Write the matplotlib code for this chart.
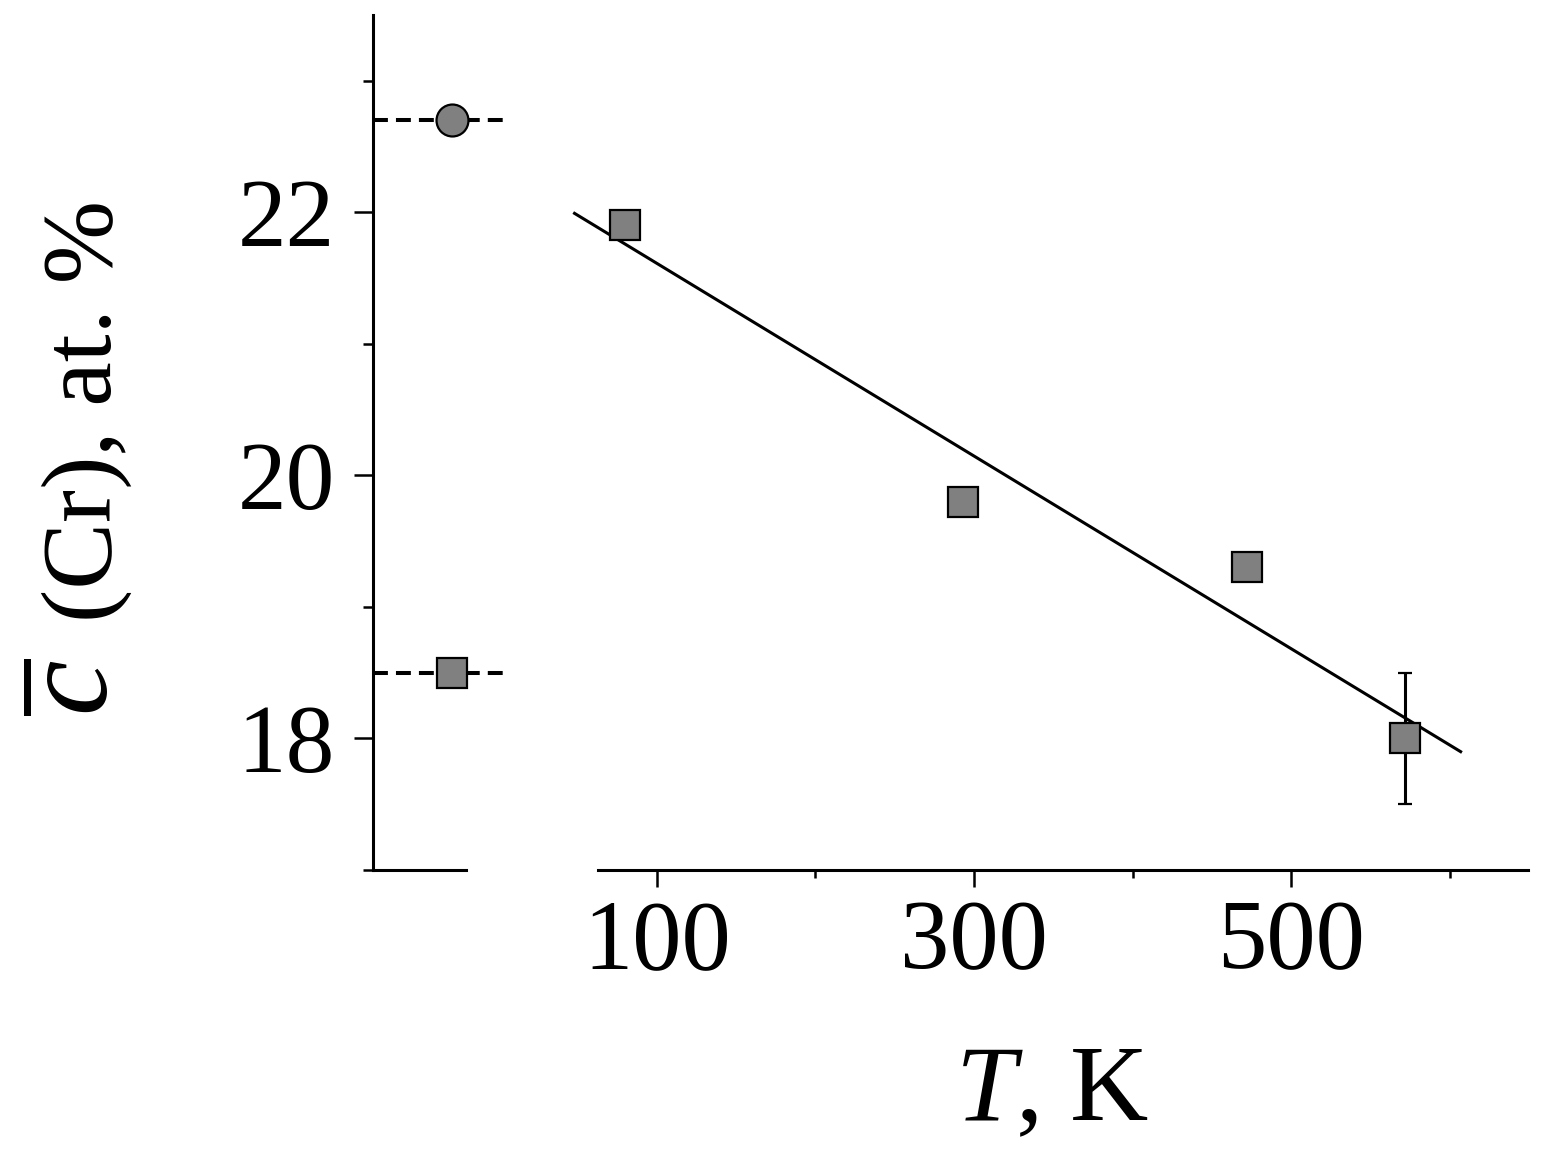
import numpy as np
import matplotlib
matplotlib.use("Agg")
import matplotlib.pyplot as plt
from matplotlib.ticker import MultipleLocator

plt.rcParams["font.family"] = "serif"
plt.rcParams["font.serif"] = ["Liberation Serif", "DejaVu Serif"]
plt.rcParams["mathtext.fontset"] = "custom"
plt.rcParams["mathtext.rm"] = "Liberation Serif"
plt.rcParams["mathtext.it"] = "Liberation Serif:italic"
FONT = "Liberation Serif"

# mean Cr concentration vs temperature
temp_K = [80, 293, 472, 572]
conc = [21.9, 19.8, 19.3, 18.0]
conc_err = [0, 0, 0, 0.5]
# reference levels (left panel)
ref_circle = 22.7
ref_square = 18.5
fit_range = [48, 607]

W, H = 1550, 1164
fig = plt.figure(figsize=(W / 100, H / 100), dpi=100)


def box(x0, x1, y0, y1):
    return [x0 / W, 1 - y1 / H, (x1 - x0) / W, (y1 - y0) / H]


ax0 = fig.add_axes(box(373, 466, 15, 870))
ax = fig.add_axes(box(598, 1528, 15, 870), sharey=ax0)

grey = "#808080"
lw = 2.2

# left panel: reference values
ax0.set_xlim(0, 1)
ax0.set_ylim(17, 23.5)
ref_x, dash_end = 0.85, 1.46
for yv in (ref_circle, ref_square):
    ax0.plot([0, dash_end], [yv, yv], color="black", lw=2.9,
             ls=(0, (3.7, 2.0)), clip_on=False, zorder=2)
ax0.plot([ref_x], [ref_circle], "o", ms=23, mfc=grey, mec="black",
         mew=1.6, clip_on=False, zorder=3)
ax0.plot([ref_x], [ref_square], "s", ms=21, mfc=grey, mec="black",
         mew=1.6, clip_on=False, zorder=3)

for s in ("top", "right"):
    ax0.spines[s].set_visible(False)
for s in ("left", "bottom"):
    ax0.spines[s].set_linewidth(lw)
ax0.set_xticks([])
ax0.yaxis.set_major_locator(MultipleLocator(2))
ax0.yaxis.set_minor_locator(MultipleLocator(1))
ax0.set_yticks([18, 20, 22])
ax0.tick_params(axis="y", which="major", direction="out", length=13.5,
                width=1.8, labelsize=70, pad=14)
ax0.tick_params(axis="y", which="minor", direction="out", length=7,
                width=1.8)

# right panel: temperature dependence
ax.set_xlim(62.8, 649.5)
for s in ("top", "right", "left"):
    ax.spines[s].set_visible(False)
ax.spines["bottom"].set_linewidth(lw)
ax.tick_params(axis="y", which="both", left=False, labelleft=False)
ax.xaxis.set_major_locator(MultipleLocator(200))
ax.xaxis.set_minor_locator(MultipleLocator(100))
ax.set_xticks([100, 300, 500])
ax.tick_params(axis="x", which="major", direction="out", length=12,
               width=1.8, labelsize=71, pad=9)
ax.tick_params(axis="x", which="minor", direction="out", length=6,
               width=1.8)
for lab in ax0.get_yticklabels() + ax.get_xticklabels():
    lab.set_fontfamily(FONT)

coef = np.polyfit(temp_K, conc, 1)
xs = np.array(fit_range, dtype=float)
ax.plot(xs, np.polyval(coef, xs), color="black", lw=lw, clip_on=False,
        zorder=2)

ax.errorbar(temp_K, conc, yerr=conc_err, fmt="s", ms=21, mfc=grey,
            mec="black", mew=1.6, ecolor="black", elinewidth=lw,
            capsize=4.7, capthick=lw, clip_on=False, zorder=3)

# axis labels
fig.text(1052 / W, 1 - 1120 / H, "$T$, K", fontsize=78, family=FONT,
         ha="center", va="baseline")
fig.text(87 / W, 1 - 622 / H, "(Cr), at. %", fontsize=72, family=FONT,
         rotation=90, ha="center", va="bottom")
fig.text(78 / W, 1 - 716 / H, r"$\overline{c}$", fontsize=90, family=FONT,
         rotation=90, ha="center", va="bottom")

fig.savefig("out.png", dpi=100)
